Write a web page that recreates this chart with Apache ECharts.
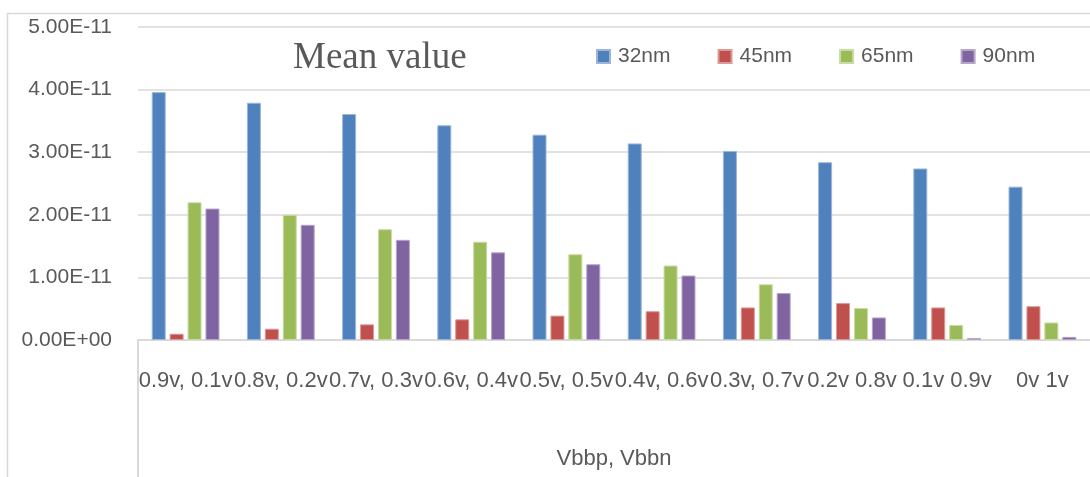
<!DOCTYPE html>
<html>
<head>
<meta charset="utf-8">
<script src="https://cdn.jsdelivr.net/npm/echarts@6/dist/echarts.min.js"></script>
<style>
  html, body { margin: 0; padding: 0; background: #fff; }
  #chart { width: 1090px; height: 477px; }
</style>
</head>
<body>
<div id="chart"></div>
<script>
// category labels (Vbbp, Vbbn)
var categories = ["0.9v, 0.1v", "0.8v, 0.2v", "0.7v, 0.3v", "0.6v, 0.4v", "0.5v, 0.5v",
  "0.4v, 0.6v", "0.3v, 0.7v", "0.2v 0.8v", "0.1v 0.9v", "0v 1v"];

var seriesNames = ["32nm", "45nm", "65nm", "90nm"];

// mean values
var val32 = [3.96e-11, 3.79e-11, 3.61e-11, 3.43e-11, 3.28e-11, 3.14e-11, 3.02e-11, 2.84e-11, 2.74e-11, 2.45e-11];
var val45 = [0.10e-11, 0.18e-11, 0.25e-11, 0.33e-11, 0.39e-11, 0.46e-11, 0.52e-11, 0.59e-11, 0.52e-11, 0.54e-11];
var val65 = [2.20e-11, 2.00e-11, 1.77e-11, 1.57e-11, 1.37e-11, 1.19e-11, 0.89e-11, 0.51e-11, 0.24e-11, 0.28e-11];
var val90 = [2.10e-11, 1.84e-11, 1.60e-11, 1.40e-11, 1.21e-11, 1.03e-11, 0.75e-11, 0.36e-11, 0.03e-11, 0.05e-11];

var colors = ["#4F81BD", "#C0504D", "#9BBB59", "#8064A2"];
var borders = ["#9CB6DB", "#DE9896", "#C9DCA4", "#B4A5C9"];

var chart = echarts.init(document.getElementById("chart"));

// 5.00E-11 style labels
function sci(v) {
  var s = Number(v).toExponential(2).toUpperCase();
  var parts = s.split("E");
  var sign = parts[1].charAt(0);
  var exp = parts[1].slice(1);
  if (exp.length < 2) exp = "0" + exp;
  return parts[0] + "E" + sign + exp;
}

var allValues = [val32, val45, val65, val90];

var option = {
  animation: false,
  color: colors,
  title: {
    text: "Mean value",
    left: 293,
    top: 40,
    padding: 0,
    textStyle: {
      fontFamily: "Liberation Serif",
      fontSize: 37,
      fontWeight: "normal",
      color: "#595959"
    }
  },
  legend: {
    left: 596,
    top: 46,
    padding: 0,
    itemWidth: 13,
    itemHeight: 13,
    itemGap: 47,
    icon: "rect",
    data: seriesNames,
    textStyle: {
      fontFamily: "Liberation Sans",
      fontSize: 21,
      color: "#595959",
      padding: [0, 0, 0, 3]
    }
  },
  grid: {
    left: 138,
    top: 27,
    width: 960,
    height: 313
  },
  xAxis: {
    type: "category",
    data: categories,
    name: "Vbbp, Vbbn",
    nameLocation: "middle",
    nameGap: 108,
    nameTextStyle: {
      fontFamily: "Liberation Sans",
      fontSize: 22,
      color: "#595959"
    },
    axisLine: { lineStyle: { color: "#D9D9D9", width: 2 } },
    axisTick: { show: false },
    axisLabel: {
      interval: 0,
      margin: 30,
      fontFamily: "Liberation Sans",
      fontSize: 22,
      color: "#595959"
    }
  },
  yAxis: {
    type: "value",
    min: 0,
    max: 5e-11,
    interval: 1e-11,
    axisLine: { show: false },
    axisTick: { show: false },
    splitLine: { lineStyle: { color: "#D9D9D9", width: 1.5 } },
    axisLabel: {
      margin: 26,
      fontFamily: "Liberation Sans",
      fontSize: 21,
      color: "#595959",
      formatter: sci
    }
  },
  graphic: [
    {
      type: "rect",
      silent: true,
      shape: { x: 7.5, y: 13.5, width: 1200, height: 600 },
      style: { fill: null, stroke: "#D9D9D9", lineWidth: 1.5 }
    },
    {
      type: "line",
      silent: true,
      shape: { x1: 138, y1: 340, x2: 138, y2: 480 },
      style: { stroke: "#D9D9D9", lineWidth: 2 }
    }
  ],
  series: seriesNames.map(function (name, i) {
    return {
      name: name,
      type: "bar",
      barWidth: 14,
      barGap: "28%",
      data: allValues[i],
      itemStyle: {
        color: colors[i],
        borderColor: borders[i],
        borderWidth: 1
      }
    };
  })
};

chart.setOption(option);
</script>
</body>
</html>
